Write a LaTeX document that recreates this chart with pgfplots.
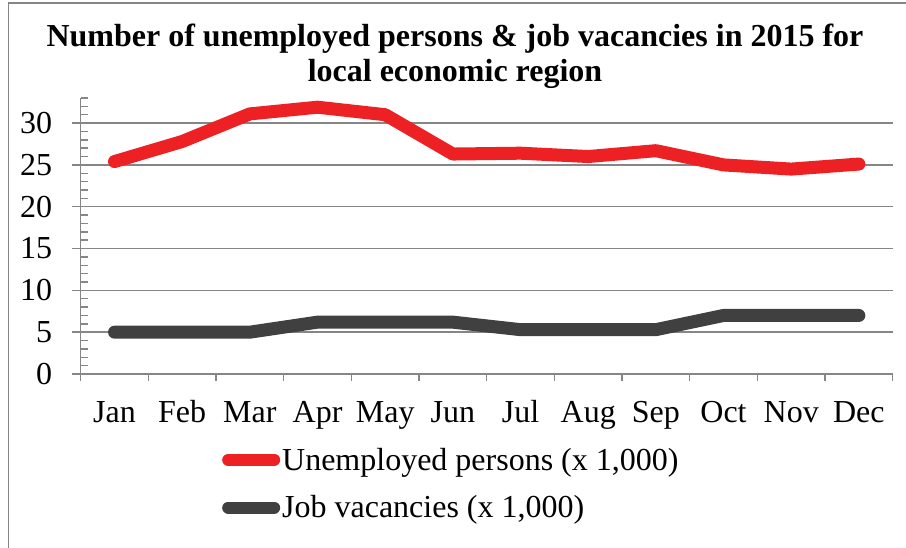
\documentclass[border=0pt]{standalone}
\usepackage{pgfplots}
\pgfplotsset{compat=1.18}
\usepackage{fontspec}
\setmainfont{Liberation Serif}
\definecolor{ured}{RGB}{237,32,36}
\definecolor{jgray}{RGB}{64,64,64}
\definecolor{gridc}{RGB}{134,134,134}
\begin{document}
\begin{tikzpicture}[x=1pt,y=1pt]
\path[use as bounding box] (0,0) rectangle (906,548);
\draw[gridc, line width=1.5pt] (8.3,0) -- (8.3,545) -- (906,545);
\node[font=\fontsize{32}{35}\selectfont\bfseries, align=center, anchor=base] at (455,466) {Number of unemployed persons \& job vacancies in 2015 for\\local economic region};
\begin{axis}[
  at={(80.7pt,174pt)}, anchor=south west,
  scale only axis, width=812pt, height=276pt,
  xmin=-0.5, xmax=11.5, ymin=0, ymax=33,
  axis lines*=left,
  axis line style={gridc, line width=1.5pt},
  xtick={0,...,11},
  xticklabels={Jan,Feb,Mar,Apr,May,Jun,Jul,Aug,Sep,Oct,Nov,Dec},
  minor xtick={-0.5,0.5,...,11.5},
  major x tick style={draw=none},
  ytick={0,5,...,30},
  minor ytick={0,...,33},
  tick align=outside,
  major tick length=9pt,
  minor tick length=7pt,
  every tick/.style={gridc, line width=1.5pt},
  minor x tick style={gridc, line width=1.5pt},
  minor y tick style={gridc, line width=1.5pt, xshift=7pt},
  ymajorgrids,
  grid style={gridc, line width=1.5pt},
  ticklabel style={font=\fontsize{32}{36}\selectfont},
  /pgf/number format/assume math mode=true,
  yticklabel style={xshift=-16pt},
  xticklabel style={text height=22pt, text depth=0pt, yshift=-14pt},
  legend style={draw=none, fill=none, at={(0.174,-0.26)}, anchor=north west,
    font=\fontsize{32}{36}\selectfont, row sep=20pt, inner sep=0pt,
    /tikz/every even column/.append style={column sep=2pt}},
  legend cell align=left,
  legend image code/.code={\draw[#1, line width=12pt, line cap=round] (6pt,0pt) -- (52pt,0pt);},
]
\addplot[ured, line width=13pt, line cap=round, line join=round] coordinates {
 (0,25.4) (1,27.8) (2,31.1) (3,31.9) (4,31.0) (5,26.3) (6,26.4) (7,26.0) (8,26.7) (9,25.0) (10,24.5) (11,25.1)};
\addlegendentry{Unemployed persons (x 1,000)}
\addplot[jgray, line width=13pt, line cap=round, line join=round] coordinates {
 (0,5.0) (1,5.0) (2,5.0) (3,6.2) (4,6.2) (5,6.2) (6,5.3) (7,5.3) (8,5.3) (9,7.0) (10,7.0) (11,7.0)};
\addlegendentry{Job vacancies (x 1,000)}
\end{axis}
\end{tikzpicture}
\end{document}
